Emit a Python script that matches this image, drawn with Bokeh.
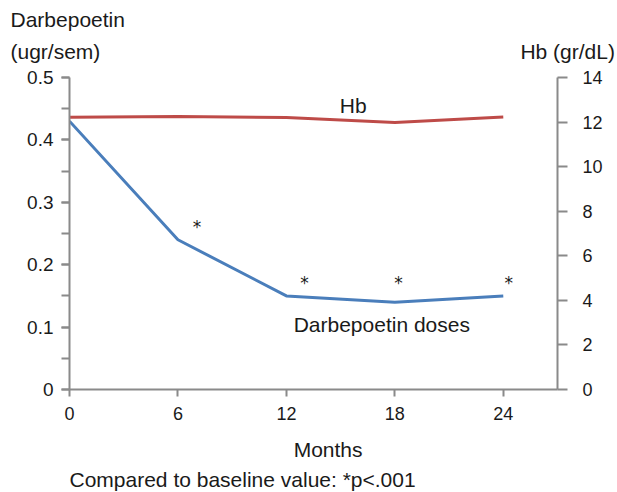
from bokeh.plotting import figure
from bokeh.models import (Range1d, LinearAxis, FixedTicker, SingleIntervalTicker,
                          CustomJSTickFormatter, Label, Title)
from bokeh.core.properties import value
from bokeh.embed import file_html
from bokeh.resources import INLINE

# ---- data ----
months = [0, 6, 12, 18, 24]
darbepoetin = [0.43, 0.24, 0.15, 0.14, 0.15]
hb = [12.22, 12.25, 12.2, 11.98, 12.23]
star_x = [7.05, 13.0, 18.2, 24.3]
star_y = [0.27, 0.18, 0.18, 0.18]
x_ticks = [0, 6, 12, 18, 24]

FONT = "Liberation Sans"
AX = "#8a8a8a"
TXT = "#1a1a1a"
BLUE = "#4a7ebb"
RED = "#be4b48"
NB = "\u00a0"

W, H = 617, 492
p = figure(width=W, height=H, output_backend="svg", toolbar_location=None,
           x_range=Range1d(0, 27), y_range=Range1d(0, 0.5),
           min_border_left=69, min_border_right=W - 557, min_border_top=77,
           min_border_bottom=H - 390)
p.outline_line_color = None
p.grid.visible = False
p.extra_y_ranges = {"hb": Range1d(0, 14)}

# lines
p.line(months, hb, y_range_name="hb", line_color=RED, line_width=3)
p.line(months, darbepoetin, line_color=BLUE, line_width=3)

# asterisks
p.text(x=star_x, y=star_y, text=["*"] * len(star_x), text_font=value("DejaVu Sans"),
       text_font_size="17px", text_align="center", text_baseline="middle", text_color=TXT,
       y_offset=6)

def style_axis(ax):
    ax.axis_line_color = AX
    ax.axis_line_width = 2
    ax.major_tick_line_color = AX
    ax.major_tick_line_width = 2
    ax.minor_tick_line_color = AX
    ax.minor_tick_line_width = 2
    ax.major_tick_in = 0
    ax.minor_tick_in = 0
    ax.major_label_text_font = FONT
    ax.major_label_text_font_size = "18px"
    ax.major_label_text_color = TXT

# bottom axis
xa = p.xaxis[0]
style_axis(xa)
xa.ticker = FixedTicker(ticks=x_ticks)
xa.major_tick_out = 7
xa.minor_tick_out = 0
xa.major_label_standoff = 10
xa.axis_label = NB * 5 + "Months"
xa.axis_label_text_font = FONT
xa.axis_label_text_font_size = "21px"
xa.axis_label_text_font_style = "normal"
xa.axis_label_text_color = TXT
xa.axis_label_standoff = 15

# left axis
ya = p.yaxis[0]
style_axis(ya)
ya.ticker = SingleIntervalTicker(interval=0.1, num_minor_ticks=2)
ya.formatter = CustomJSTickFormatter(code="return tick < 1e-9 ? '0' : tick.toFixed(1);")
ya.major_label_text_font_size = "19px"
ya.major_tick_out = 8
ya.minor_tick_out = 8
ya.major_label_standoff = 8

# right axis
ra = LinearAxis(y_range_name="hb", ticker=SingleIntervalTicker(interval=2, num_minor_ticks=0))
style_axis(ra)
ra.major_tick_out = 10
ra.minor_tick_out = 0
ra.major_label_standoff = 15
p.add_layout(ra, "right")

def title(text, place, **kw):
    t = Title(text=text, align="left", text_font=FONT, text_font_size="21px",
              text_font_style="normal", text_color=TXT, **kw)
    p.add_layout(t, place)

# axis titles above the frame (first added = closest to the frame)
title("(ugr/sem)" + NB * 72 + "Hb (gr/dL)", "above", offset=-59, standoff=30)
title("Darbepoetin", "above", offset=-59, standoff=-17)
# footnote below the x axis
title("Compared to baseline value: *p<.001", "below", offset=0, standoff=4)

# in-plot labels
for txt, x, y in [("Hb", 15.7, 0.455), ("Darbepoetin doses", 17.28, 0.104)]:
    p.add_layout(Label(x=x, y=y, text=txt, text_font=FONT, text_font_size="21px",
                       text_color=TXT, text_align="center", text_baseline="alphabetic"))

open("out.html", "w").write(file_html(p, INLINE))
